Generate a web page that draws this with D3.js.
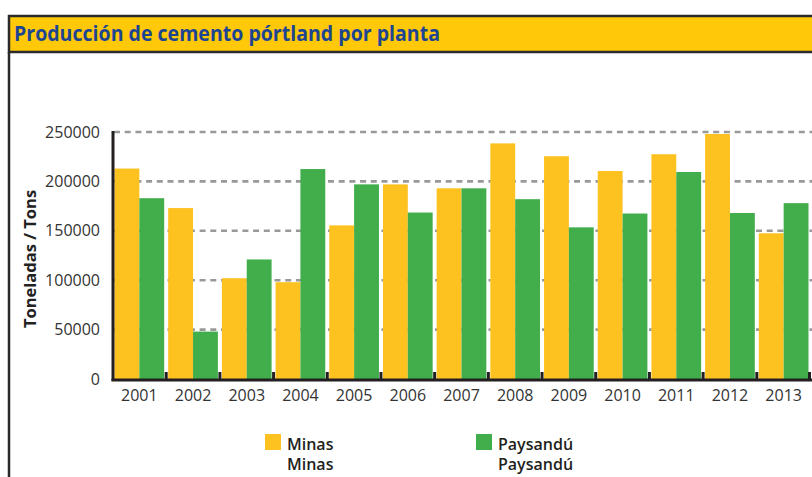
<!DOCTYPE html>
<html><head><meta charset="utf-8">
<script src="https://cdn.jsdelivr.net/npm/d3@7"></script>
<style>body{margin:0;background:#fff}svg{display:block}</style>
</head><body>
<script>
const years = ["2001","2002","2003","2004","2005","2006","2007","2008","2009","2010","2011","2012","2013"];
const seriesNames = ["Minas","Paysandú"];
const minas =    [213000,173000,102000,98000,155500,197000,193000,238500,225500,210500,227500,248000,147500];
const paysandu = [183000,48000,121000,212500,197000,168500,193000,182000,153500,167500,209500,168000,178000];
const yTicks = [0,50000,100000,150000,200000,250000];
const colors = ["#FDC220","#41AE4B"];

const W=812,H=477;
const svg=d3.select("body").append("svg").attr("width",W).attr("height",H);
const font="'Open Sans', 'DejaVu Sans', sans-serif";

// frame
svg.append("rect").attr("x",9).attr("y",16).attr("width",830).attr("height",36)
  .attr("fill","#FFC90A").attr("stroke","#2a2a2a").attr("stroke-width",2.5);
svg.append("line").attr("x1",9).attr("x2",9).attr("y1",52).attr("y2",H)
  .attr("stroke","#2a2a2a").attr("stroke-width",2.5);
svg.append("text").attr("x",14).attr("y",41).text("Producción de cemento pórtland por planta")
  .attr("font-family","'Open Sans', sans-serif").attr("font-weight","bold").attr("font-size",20.5)
  .attr("fill","#1d4591").attr("textLength",426).attr("lengthAdjust","spacingAndGlyphs");

const x0=d3.scaleBand().domain(years).range([112.5,810.5]).padding(0);
const x1=d3.scaleBand().domain(seriesNames).range([2,x0.bandwidth()-2]);
const y=d3.scaleLinear().domain([0,250000]).range([379,132]);

// grid
svg.append("g").selectAll("line").data(yTicks.filter(d=>d>0)).join("line")
  .attr("x1",114).attr("x2",W).attr("y1",d=>y(d)).attr("y2",d=>y(d))
  .attr("stroke","#999").attr("stroke-width",2.6).attr("stroke-dasharray","6,4.7");

// bars
const data=years.map((yr,i)=>({year:yr,vals:[minas[i],paysandu[i]]}));
const g=svg.append("g").selectAll("g").data(data).join("g").attr("transform",d=>`translate(${x0(d.year)},0)`);
g.selectAll("rect").data(d=>d.vals.map((v,j)=>({name:seriesNames[j],v,j}))).join("rect")
  .attr("x",d=>x1(d.name)).attr("width",x1.bandwidth())
  .attr("y",d=>y(d.v)).attr("height",d=>y(0)-y(d.v)).attr("fill",d=>colors[d.j]);

// axes
const yAxis=d3.axisLeft(y).tickValues(yTicks).tickSize(0).tickPadding(13).tickFormat(d3.format("d"));
const ya=svg.append("g").attr("transform","translate(113,0)").call(yAxis);
ya.select(".domain").remove();
ya.selectAll("text").attr("font-family",font).attr("font-size",16).attr("fill","#333");
svg.append("line").attr("x1",113).attr("x2",113).attr("y1",131).attr("y2",381).attr("stroke","#231f20").attr("stroke-width",3);

const xAxis=d3.axisBottom(x0).tickSize(0).tickPadding(11);
const xa=svg.append("g").attr("transform","translate(0,379)").call(xAxis);
xa.select(".domain").remove();
xa.selectAll("text").attr("font-family",font).attr("font-size",16).attr("fill","#333");
svg.append("line").attr("x1",111.5).attr("x2",W).attr("y1",380).attr("y2",380).attr("stroke","#231f20").attr("stroke-width",3);
// category boundary ticks
svg.append("g").selectAll("line").data(years.slice(1).concat(["end"])).join("line")
  .attr("x1",d=>d==="end"?x0.range()[1]-1:x0(d)).attr("x2",d=>d==="end"?x0.range()[1]-1:x0(d))
  .attr("y1",372).attr("y2",380).attr("stroke","#231f20").attr("stroke-width",3);

svg.append("text").attr("transform","translate(36,259) rotate(-90)").attr("text-anchor","middle")
  .text("Toneladas / Tons").attr("font-family",font).attr("font-weight","bold").attr("font-size",16.5).attr("fill","#222");

// legend
const legX=[265,476];
const lg=svg.append("g").selectAll("g").data(seriesNames).join("g").attr("transform",(d,i)=>`translate(${legX[i]},434)`);
lg.append("rect").attr("width",16).attr("height",16).attr("fill",(d,i)=>colors[i]);
lg.append("text").attr("x",22).attr("y",16).text(d=>d).attr("font-family",font).attr("font-weight","600").attr("font-size",16).attr("fill","#231f20");
lg.append("text").attr("x",22).attr("y",36).text(d=>d).attr("font-family",font).attr("font-weight","600").attr("font-size",16).attr("fill","#231f20");
</script>
</body></html>
